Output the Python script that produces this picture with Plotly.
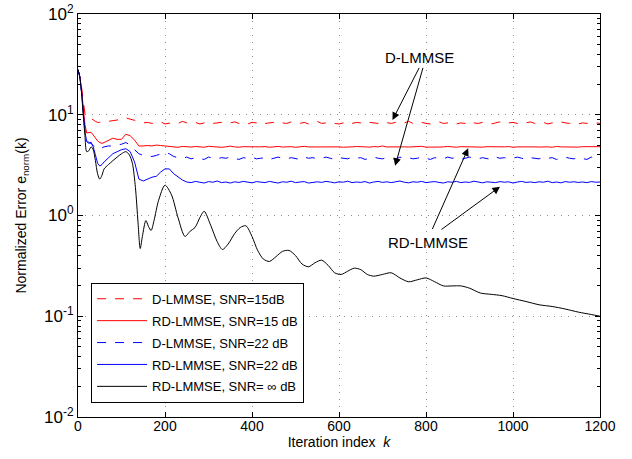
import plotly.graph_objects as go

# ---------------- data ----------------
k_early = [0, 4, 8, 12, 16, 20, 25, 30, 35, 40, 45, 50, 55, 60, 70, 80, 90, 100, 110, 120, 130, 140, 150]
k_late = list(range(160, 1201, 10))

d15_early = [28, 24, 19, 13, 10.2, 9.6, 9.4, 9.2, 8.9, 8.6, 8.4, 8.4, 8.5, 8.6, 8.6, 8.7, 8.8, 9.0, 9.3, 9.1, 8.8, 8.4, 8.3]
d15_late = [8.4, 8.2, 8.3, 8.5, 8.1, 8.3, 8.4, 8.2, 8.6, 8.3,
            8.2, 8.4, 8.1, 8.3, 8.5, 8.2, 8.3, 8.4, 8.1, 8.3,
            8.5, 8.2, 8.3, 8.1, 8.4, 8.3, 8.6, 8.2, 8.3, 8.4,
            8.1, 8.3, 8.2, 8.5, 8.3, 8.2, 8.4, 8.1, 8.3, 8.6,
            8.2, 8.3, 8.4, 8.2, 8.1, 8.3, 8.5, 8.2, 8.4, 8.3,
            8.1, 8.4, 8.3, 8.2, 8.5, 8.3, 8.2, 8.4, 8.1, 8.3,
            8.6, 8.2, 8.3, 8.4, 8.2, 8.1, 8.3, 8.5, 8.2, 8.3,
            8.4, 8.1, 8.3, 8.2, 8.6, 8.3, 8.2, 8.4, 8.3, 8.1,
            8.3, 8.5, 8.2, 8.3, 8.4, 8.2, 8.1, 8.3, 8.5, 8.2,
            8.3, 8.4, 8.1, 8.3, 8.2, 8.5, 8.3, 8.2, 8.4, 8.1,
            8.3, 8.2, 8.4, 8.3, 8.2]

rd15_early = [28, 24, 18, 12, 8.0, 6.6, 6.6, 6.7, 6.3, 5.9, 5.5, 5.3, 5.2, 5.3, 5.6, 5.85, 5.7, 5.7, 6.4, 6.2, 5.6, 4.9, 4.9]
rd15_late = [4.95, 4.9, 5.0, 4.95, 4.9, 4.85, 4.82, 4.75, 4.85, 4.8,
             4.78, 4.84, 4.8, 4.76, 4.86, 4.8, 4.82, 4.75, 4.8, 4.88,
             4.8, 4.76, 4.82, 4.8, 4.85, 4.77, 4.8, 4.83, 4.76, 4.8,
             4.85, 4.78, 4.8, 4.82, 4.75, 4.8, 4.86, 4.79, 4.8, 4.76,
             4.82, 4.8, 4.78, 4.85, 4.8, 4.76, 4.82, 4.8, 4.84, 4.78,
             4.8, 4.77, 4.83, 4.8, 4.9, 4.79, 4.81, 4.76, 4.84, 4.8,
             4.78, 4.82, 4.8, 4.86, 4.77, 4.8, 4.83, 4.78, 4.8, 4.85,
             4.8, 4.76, 4.82, 4.8, 4.78, 4.84, 4.8, 4.77, 4.82, 4.8,
             4.85, 4.78, 4.8, 4.83, 4.76, 4.8, 4.82, 4.79, 4.86, 4.8,
             4.78, 4.82, 4.8, 4.76, 4.84, 4.8, 4.78, 4.83, 4.8, 4.77,
             4.82, 4.8, 4.85, 4.78, 4.82]

d22_early = [28, 24, 17, 11, 7.0, 5.6, 5.3, 5.2, 4.9, 4.7, 4.6, 4.6, 4.7, 4.8, 4.9, 4.9, 5.0, 5.1, 5.3, 5.0, 4.5, 4.1, 3.95]
d22_late = [3.9, 3.85, 3.95, 4.05, 4.2, 4.1, 3.85, 3.75, 3.7, 3.8,
            3.65, 3.75, 3.7, 3.6, 3.8, 3.7, 3.65, 3.75, 3.7, 3.8,
            3.7, 3.6, 3.75, 3.7, 3.8, 3.65, 3.7, 3.75, 3.6, 3.7,
            3.8, 3.7, 3.65, 3.75, 3.7, 3.6, 3.8, 3.7, 3.75, 3.65,
            3.7, 3.8, 3.7, 3.6, 3.75, 3.7, 3.65, 3.8, 3.7, 3.75,
            3.6, 3.7, 3.8, 3.7, 3.65, 3.75, 3.7, 3.6, 3.8, 3.7,
            3.75, 3.65, 3.7, 3.8, 3.7, 3.6, 3.75, 3.7, 3.65, 3.8,
            3.7, 3.75, 3.6, 3.7, 3.8, 3.7, 3.65, 3.75, 3.7, 3.6,
            3.8, 3.7, 3.75, 3.65, 3.7, 3.8, 3.7, 3.6, 3.75, 3.7,
            3.65, 3.8, 3.7, 3.75, 3.6, 3.7, 3.8, 3.7, 3.65, 3.75,
            3.7, 3.6, 3.8, 3.7, 3.75]

rd22_early = [28, 24, 17, 11, 6.8, 5.4, 5.2, 5.35, 4.8, 4.0, 3.3, 3.1, 3.2, 3.4, 3.7, 4.1, 4.3, 4.5, 4.6, 4.3, 3.4, 2.3, 2.2]
rd22_late = [2.3, 2.4, 2.45, 2.7, 2.9, 2.9, 2.6, 2.4, 2.25, 2.15,
             2.12, 2.18, 2.15, 2.1, 2.17, 2.14, 2.2, 2.12, 2.15, 2.1,
             2.16, 2.13, 2.18, 2.15, 2.11, 2.17, 2.14, 2.12, 2.18, 2.15,
             2.1, 2.16, 2.14, 2.19, 2.12, 2.15, 2.17, 2.1, 2.14, 2.16,
             2.13, 2.18, 2.15, 2.11, 2.16, 2.14, 2.19, 2.12, 2.15, 2.13,
             2.17, 2.1, 2.15, 2.18, 2.13, 2.16, 2.12, 2.15, 2.2, 2.14,
             2.11, 2.16, 2.14, 2.18, 2.12, 2.15, 2.17, 2.13, 2.1, 2.16,
             2.14, 2.18, 2.12, 2.15, 2.13, 2.19, 2.14, 2.11, 2.16, 2.15,
             2.12, 2.17, 2.14, 2.16, 2.1, 2.15, 2.18, 2.13, 2.15, 2.12,
             2.16, 2.14, 2.19, 2.12, 2.15, 2.11, 2.17, 2.14, 2.16, 2.13,
             2.15, 2.12, 2.17, 2.14, 2.15]

k_inf = [0, 4, 8, 12, 16, 20, 25, 30, 35, 40, 45, 50, 55, 60, 70, 80, 90, 100, 110, 118, 125, 132, 138, 143,
         148, 156, 162, 168, 175, 185, 200, 215, 230, 246, 258, 269, 280, 290, 305, 320, 332, 345, 360, 373,
         386, 400, 413, 426, 440, 455, 470, 485, 500, 515, 530, 545, 560, 575, 590, 605, 620, 635, 650, 665,
         680, 700, 720, 740, 760, 780, 800, 820, 840, 860, 880, 900, 925, 950, 975, 1000, 1030, 1060, 1090,
         1120, 1150, 1180, 1200]
inf_vals = [28, 24, 17, 10, 6.2, 4.3, 4.4, 4.8, 4.5, 3.5, 2.6, 2.3, 2.5, 2.9, 3.2, 3.5, 3.8, 4.1, 4.3, 4.0,
            3.3, 1.9, 0.85, 0.47, 0.62, 0.89, 0.78, 0.71, 0.9, 1.4, 2.0, 1.6, 0.95, 0.62, 0.7, 0.76, 0.95,
            1.1, 0.8, 0.55, 0.46, 0.52, 0.66, 0.76, 0.79, 0.62, 0.45, 0.37, 0.35, 0.39, 0.44, 0.45, 0.4,
            0.33, 0.31, 0.34, 0.36, 0.32, 0.27, 0.26, 0.28, 0.3, 0.29, 0.26, 0.25, 0.26, 0.27, 0.24, 0.22,
            0.23, 0.24, 0.22, 0.2, 0.2, 0.2, 0.19, 0.17, 0.165, 0.16, 0.15, 0.14, 0.13, 0.125, 0.118, 0.11,
            0.104, 0.1]

names = ["D-LMMSE, SNR=15dB", "RD-LMMSE, SNR=15 dB", "D-LMMSE, SNR=22 dB",
         "RD-LMMSE, SNR=22 dB", "RD-LMMSE, SNR= \u221e dB"]
y_ticks = [0.01, 0.1, 1, 10, 100]
y_ticktext = ["10<sup>-2</sup>", "10<sup>-1</sup>", "10<sup>0</sup>", "10<sup>1</sup>", "10<sup>2</sup>"]
y_minor = [m * 10.0 ** e for e in (-2, -1, 0, 1) for m in range(2, 10)]
x_ticks = [0, 200, 400, 600, 800, 1000, 1200]

# ---------------- figure ----------------
FONT = "Liberation Sans, Arial, Helvetica, sans-serif"
k_all = k_early + k_late
fig = go.Figure()
series = [
    (d15_early + d15_late, "#ff0000", "dash"),
    (rd15_early + rd15_late, "#ff0000", "solid"),
    (d22_early + d22_late, "#0000ff", "dash"),
    (rd22_early + rd22_late, "#0000ff", "solid"),
]
for i, ((vals, col, dash), nm) in enumerate(zip(series, names[:4])):
    fig.add_trace(go.Scatter(x=k_all, y=vals, mode="lines", name=nm, legendgroup=f"g{i}",
                             line=dict(color=col, width=1, dash=dash)))
fig.add_trace(go.Scatter(x=k_inf, y=inf_vals, mode="lines", name=names[4], legendgroup="g4",
                         line=dict(color="black", width=1, shape="spline", smoothing=0.8)))

axis_common = dict(showline=True, linecolor="black", linewidth=1, mirror="ticks",
                   ticks="inside", ticklen=5, tickcolor="black", automargin=False,
                   ticklabeloverflow="allow",
                   showgrid=True, gridcolor="#8c8c8c", griddash="1px,6px", gridwidth=1,
                   zeroline=False)

fig.update_xaxes(range=[0, 1200], tickvals=x_ticks, ticklabelstandoff=-4,
                 tickfont=dict(size=14, color="black", family=FONT),
                 title=dict(text="Iteration index  <i>k</i>", font=dict(size=14, family=FONT, color="black"),
                            standoff=0),
                 **axis_common)
fig.update_yaxes(type="log", range=[-2, 2], tickvals=y_ticks, ticktext=y_ticktext,
                 tickfont=dict(size=17, color="black", family=FONT),
                 minor=dict(ticks="inside", ticklen=3, tickcolor="black", showgrid=False, tickvals=y_minor),
                 title=dict(text="Normalized Error e<sub>norm</sub>(k)", font=dict(size=14, family=FONT, color="black"),
                            standoff=14),
                 **axis_common)

ann_font = dict(size=15, family=FONT, color="black")
arrow = dict(xref="x", yref="y", axref="x", ayref="y", showarrow=True,
             arrowhead=2, arrowsize=1.5, arrowwidth=1, arrowcolor="black", text="")
fig.add_annotation(x=723, y=0.948, ax=786, ay=1.48, **arrow)
fig.add_annotation(x=729, y=0.494, ax=794, ay=1.48, **arrow)
fig.add_annotation(x=897, y=0.667, ax=813, ay=-0.15, **arrow)
fig.add_annotation(x=970, y=0.286, ax=832, ay=-0.15, **arrow)
fig.add_annotation(x=786, y=1.573, text="D-LMMSE", showarrow=False, font=ann_font, xref="x", yref="y")
fig.add_annotation(x=805, y=-0.263, text="RD-LMMSE", showarrow=False, font=ann_font, xref="x", yref="y")

fig.update_layout(
    width=632, height=459,
    margin=dict(l=78, r=32, t=14, b=42),
    paper_bgcolor="white", plot_bgcolor="white",
    font=dict(family=FONT, size=14, color="black"),
    legend=dict(x=0.025, y=0.333, xanchor="left", yanchor="top",
                bordercolor="black", borderwidth=1, bgcolor="white", tracegroupgap=2,
                font=dict(size=13, family=FONT, color="black"), itemwidth=50),
    showlegend=True,
)

fig.write_html("out.html", config={"displayModeBar": False},
               post_script="document.body.style.margin='0';")
